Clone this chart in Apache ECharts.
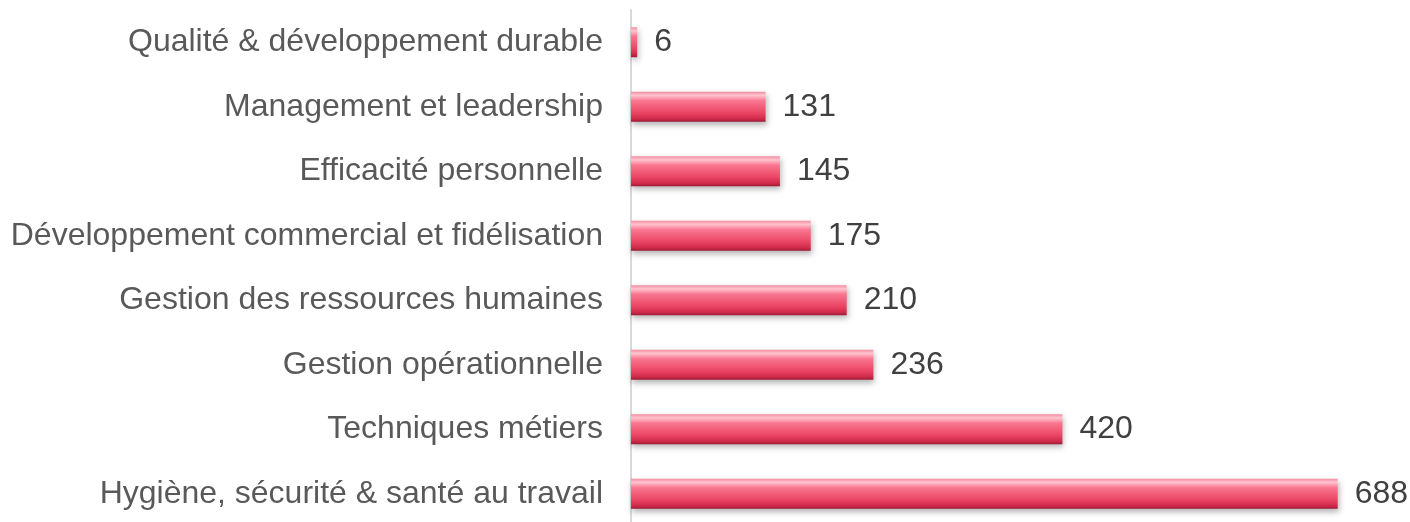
<!DOCTYPE html>
<html><head><meta charset="utf-8">
<script src="https://cdn.jsdelivr.net/npm/echarts@6/dist/echarts.min.js"></script>
<style>html,body{margin:0;padding:0;background:#fff}#c{width:1410px;height:522px}</style>
</head><body><div id="c"></div>
<script>
const categories = ["Hygiène, sécurité & santé au travail","Techniques métiers","Gestion opérationnelle","Gestion des ressources humaines","Développement commercial et fidélisation","Efficacité personnelle","Management et leadership","Qualité & développement durable"];
const values = [688, 420, 236, 210, 175, 145, 131, 6];

const chart = echarts.init(document.getElementById('c'));
chart.setOption({
  animation:false,
  grid:{left:631, top:10, width:719, height:516, containLabel:false, outerBoundsMode:'none'},
  xAxis:{type:'value', min:0, max:700, show:false},
  yAxis:{type:'category', data:categories,
    axisLine:{show:true, lineStyle:{color:'#d9d9d9', width:2}},
    axisTick:{show:false},
    axisLabel:{color:'#595959', fontFamily:'Liberation Sans, Arial', fontSize:32, margin:28}},
  series:[{type:'bar', data:values, barWidth:30,
    itemStyle:{
      color:new echarts.graphic.LinearGradient(0,0,0,1,[
        {offset:0,color:'#f58da1'},{offset:0.12,color:'#ffc4cf'},{offset:0.3,color:'#f97690'},
        {offset:0.7,color:'#ea4664'},{offset:0.9,color:'#d02a4a'},{offset:1,color:'#9e1a36'}]),
      shadowColor:'rgba(0,0,0,0.3)', shadowBlur:6, shadowOffsetY:3, shadowOffsetX:1},
    label:{show:true, position:'right', distance:17, color:'#404040', fontFamily:'Liberation Sans, Arial', fontSize:32}
  }]
});
</script></body></html>
